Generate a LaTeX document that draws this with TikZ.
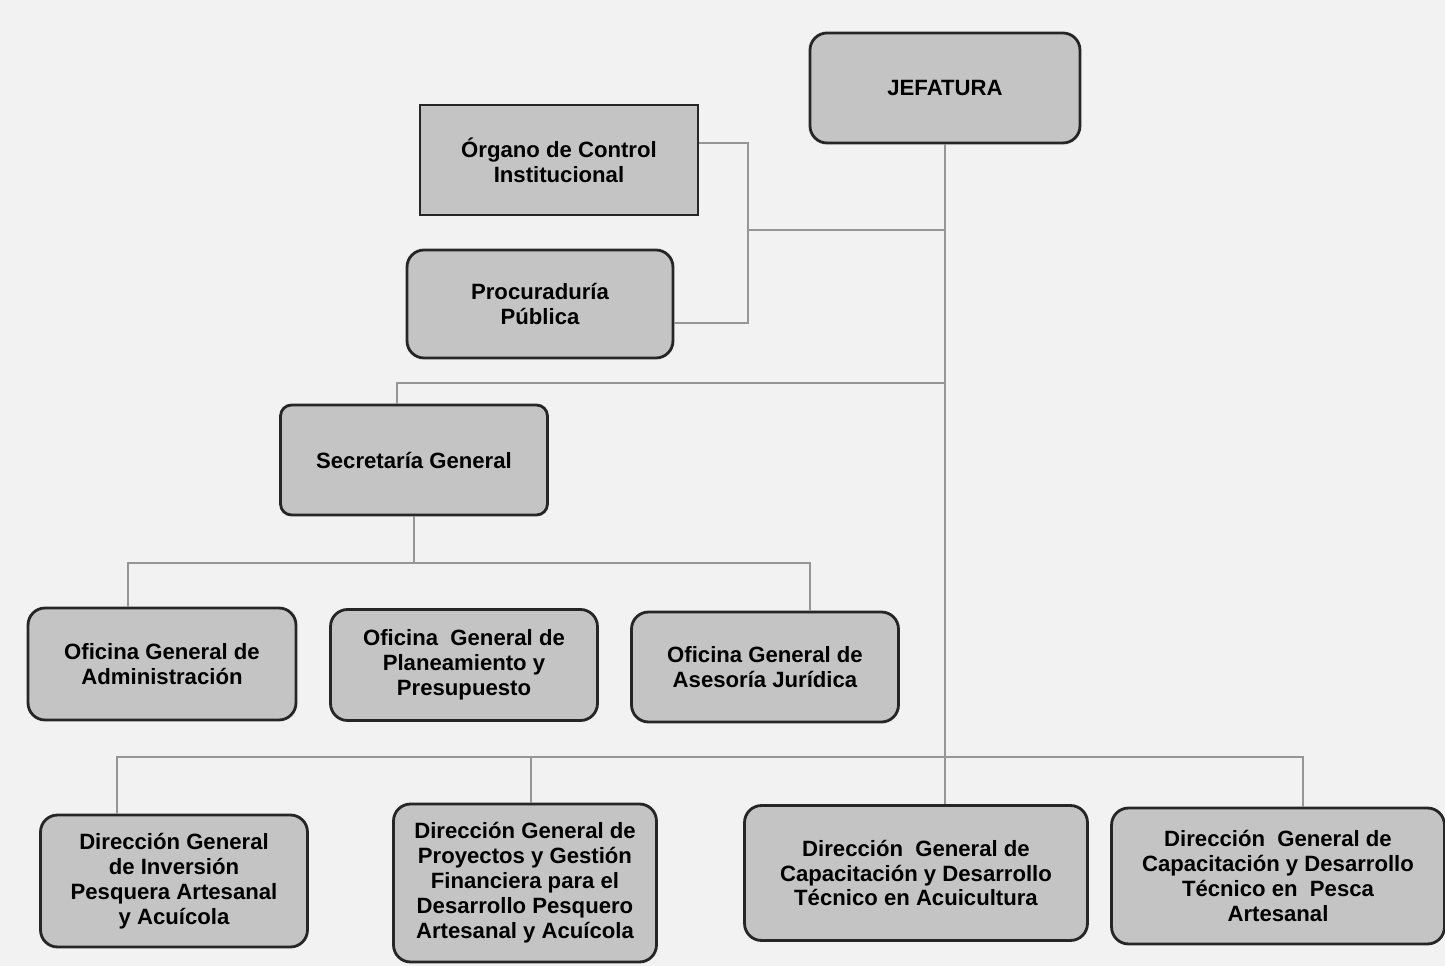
\documentclass[tikz,border=0pt]{standalone}
\usepackage{fontspec}
\setmainfont{Liberation Sans}
\usetikzlibrary{positioning,calc}
\definecolor{fondo}{RGB}{242,242,242}
\definecolor{caja}{RGB}{196,196,196}
\definecolor{borde}{RGB}{38,38,38}
\definecolor{conector}{RGB}{150,150,150}
\tikzset{
  unidad/.style 2 args={rectangle,rounded corners=0.34cm,draw=borde,
              line width=1.6pt,fill=caja,align=center,
              minimum width=#1,minimum height=#2,inner sep=2pt,
              font=\fontsize{12.6}{14.2}\selectfont\bfseries},
  linea/.style={conector,line width=0.7pt},
}

\begin{document}
\begin{tikzpicture}[x=0.02cm,y=-0.02cm]
    \fill[fondo] (0,0) rectangle (1445,966);
    \useasboundingbox (0,0) rectangle (1445,966);

    \node[unidad={5.4cm}{2.2cm}] (jef) at (945,88) {JEFATURA};
    \node[unidad={5.56cm}{2.2cm},sharp corners] (oci) at (559,160)
        {Órgano de Control\\Institucional};
    \node[unidad={5.32cm}{2.16cm}] (pp) at (540,304) {Procuraduría\\Pública};
    \node[unidad={5.34cm}{2.2cm},rounded corners=0.22cm] (sg) at (414,460)
        {Secretaría General};

    % oficinas
    \node[unidad={5.36cm}{2.24cm}] (oga) at (162,664)
        {Oficina General de\\Administración};
    \node[unidad={5.34cm}{2.22cm}] (ogpp) at (464,665)
        {Oficina\ \ General de\\Planeamiento y\\Presupuesto};
    \node[unidad={5.34cm}{2.2cm}] (ogaj) at (765,667)
        {Oficina General de\\Asesoría Jurídica};

    % direcciones generales
    \node[unidad={5.34cm}{2.64cm}] (dgipa) at (174,881)
        {Dirección General\\de Inversión\\Pesquera Artesanal\\y Acuícola};
    \node[unidad={5.26cm}{3.16cm}] (dgpg) at (525,883)
        {Dirección General de\\Proyectos y Gestión\\Financiera para el\\Desarrollo Pesquero\\Artesanal y Acuícola};
    \node[unidad={6.86cm}{2.7cm}] (dgca) at (916,873)
        {Dirección\ \ General de\\Capacitación y Desarrollo\\Técnico en Acuicultura};
    \node[unidad={6.66cm}{2.72cm}] (dgcp) at (1278,876)
        {Dirección\ \ General de\\Capacitación y Desarrollo\\Técnico en\ \ Pesca\\Artesanal};

    \coordinate (brtop) at (748,143);
    \coordinate (brmid) at (748,230);
    \coordinate (brbot) at (748,323);
    \coordinate (sgtop) at (397,383);
    \coordinate (ofl) at (128,563);
    \coordinate (ofr) at (810,563);
    \coordinate (dbl) at (117,757);
    \coordinate (dbm) at (531,757);
    \coordinate (dbr) at (1303,757);

    \draw[linea] (jef.south) -- (jef.south |- dgca.north);
    \draw[linea] (oci.east |- brtop) -- (brtop) -- (brbot) -- (pp.east |- brbot);
    \draw[linea] (brmid) -- (brmid -| jef.south);
    \draw[linea] (sg.north -| sgtop) -- (sgtop) -- (sgtop -| jef.south);
    \draw[linea] (sg.south) -- (sg.south |- ofl);
    \draw[linea] (oga.north -| ofl) -- (ofl) -- (ofr) -- (ogaj.north -| ofr);
    \draw[linea] (dgipa.north -| dbl) -- (dbl) -- (dbr) -- (dgcp.north -| dbr);
    \draw[linea] (dbm) -- (dgpg.north -| dbm);

\end{tikzpicture}
\end{document}
